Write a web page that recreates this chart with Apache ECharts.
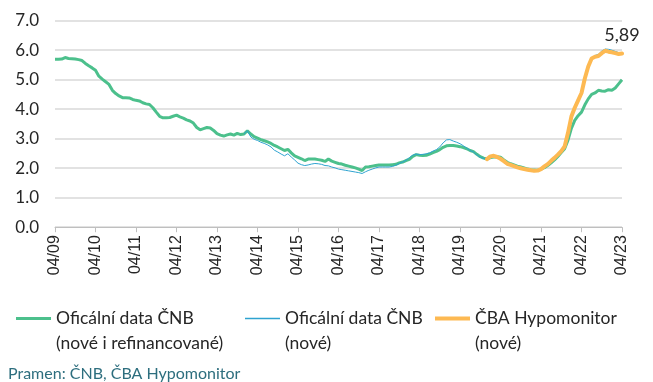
<!DOCTYPE html>
<html><head><meta charset="utf-8">
<script src="https://cdn.jsdelivr.net/npm/echarts@6/dist/echarts.min.js"></script>
<style>html,body{margin:0;padding:0;background:#fff}#c{width:653px;height:382px}</style>
</head><body><div id="c"></div><script>
// categories: monthly 04/09 .. 04/23
const months = [];
for (let i = 0; i < 169; i++) {
  const m = (3 + i) % 12 + 1, y = 9 + Math.floor((3 + i) / 12);
  months.push(String(m).padStart(2, '0') + '/' + String(y).padStart(2, '0'));
}
const seriesNames = ['Oficální data ČNB\n(nové i refinancované)', 'Oficální data ČNB\n(nové)', 'ČBA Hypomonitor\n(nové)'];
const cnbAll = [
5.69,5.69,5.70,5.75,5.72,5.71,5.70,5.68,5.65,5.55,5.47,5.40,
5.32,5.12,5.02,4.93,4.84,4.64,4.53,4.45,4.39,4.39,4.38,4.33,
4.30,4.28,4.22,4.18,4.16,4.05,3.90,3.76,3.71,3.71,3.72,3.76,
3.80,3.74,3.70,3.64,3.60,3.53,3.38,3.30,3.34,3.38,3.36,3.28,
3.17,3.12,3.09,3.13,3.16,3.12,3.18,3.14,3.16,3.27,3.16,3.07,
3.02,2.97,2.93,2.89,2.84,2.77,2.72,2.66,2.60,2.64,2.52,2.42,
2.37,2.32,2.26,2.31,2.31,2.31,2.29,2.27,2.23,2.31,2.24,2.20,
2.16,2.14,2.10,2.07,2.04,2.01,1.97,1.92,2.04,2.05,2.07,2.09,
2.11,2.11,2.11,2.11,2.12,2.13,2.18,2.21,2.26,2.30,2.40,2.46,
2.44,2.43,2.44,2.48,2.53,2.57,2.63,2.71,2.76,2.77,2.77,2.75,
2.73,2.70,2.66,2.60,2.56,2.47,2.39,2.34,2.31,2.36,2.38,2.39,
2.37,2.28,2.20,2.15,2.11,2.07,2.04,2.01,1.97,1.95,1.94,1.93,
1.97,2.02,2.09,2.18,2.28,2.40,2.53,2.66,2.95,3.35,3.62,3.78,
3.90,4.15,4.35,4.50,4.55,4.64,4.62,4.61,4.66,4.64,4.72,4.86,
5.00];
const cnbNew = Array(56).fill(null).concat([
3.16,3.27,3.06,2.98,
2.94,2.88,2.84,2.79,2.72,2.61,2.55,2.48,2.42,2.49,2.38,2.28,
2.17,2.12,2.09,2.11,2.14,2.16,2.15,2.13,2.09,2.08,2.04,2.01,
1.97,1.95,1.93,1.91,1.89,1.87,1.85,1.82,1.88,1.93,1.97,2.01,
2.04,2.04,2.04,2.04,2.06,2.10,2.16,2.21,2.27,2.36,2.44,2.48,
2.46,2.47,2.49,2.52,2.58,2.63,2.72,2.86,2.96,2.97,2.92,2.88,
2.83,2.76,2.68,2.60,2.55,2.45,2.37,2.33,2.31,2.39,2.41,2.37,
2.31,2.23,2.15,2.10,2.06,2.02,1.99,1.97,1.95,1.93,1.91,1.92,
1.97,2.06,2.14,2.24,2.34,2.45,2.57,2.72,3.18,3.73,4.03,4.28,
4.53,5.03,5.45,5.74,5.82,5.86,5.97,6.04,6.03,6.00,5.96,5.92,
5.91]);
const hypo = Array(128).fill(null).concat([
2.31,2.40,2.42,2.38,
2.32,2.24,2.15,2.11,2.07,2.03,2.00,1.97,1.95,1.93,1.91,1.92,
1.97,2.06,2.14,2.25,2.35,2.46,2.58,2.74,3.20,3.75,4.05,4.30,
4.55,5.05,5.45,5.72,5.78,5.80,5.90,5.98,5.95,5.93,5.90,5.87,
5.89]);
const yTicks = [0, 7, 1];

const hypoData = hypo.map((v, i) => i === hypo.length - 1 ? {
  value: v,
  label: { show: true, position: 'top', distance: 9, fontSize: 18, fontFamily: 'Lato', color: '#262626',
           formatter: p => p.value.toFixed(2).replace('.', ',') }
} : v);

const chart = echarts.init(document.getElementById('c'), null, { renderer: 'canvas' });
const legendBase = (name, left, h) => ({
  data: [name], left: left, top: 276, orient: 'horizontal',
  icon: 'rect', itemWidth: 35, itemHeight: h,
  formatter: n => '\n' + n,
  textStyle: { fontFamily: 'Lato', fontSize: 17.5, color: '#262626', lineHeight: 25 },
  itemGap: 0
});
chart.setOption({
  animation: false,
  grid: { left: 55, right: 31, top: 20.7, bottom: 154.8, containLabel: false },
  title: { text: 'Pramen: ČNB, ČBA Hypomonitor', left: 3, top: 361,
           textStyle: { fontFamily: 'Lato', fontSize: 16, fontWeight: 'normal', color: '#2d6e7e' } },
  legend: [
    legendBase(seriesNames[0], 11, 3),
    legendBase(seriesNames[1], 240, 1.5),
    legendBase(seriesNames[2], 430, 4)
  ],
  xAxis: {
    type: 'category', data: months, boundaryGap: false,
    axisLine: { lineStyle: { color: '#bfbfbf', width: 1 } },
    axisTick: { show: true, interval: 11, length: 5, lineStyle: { color: '#bfbfbf' } },
    axisLabel: { interval: 11, rotate: 90, fontFamily: 'Liberation Sans', fontSize: 16, color: '#262626', margin: 8 }
  },
  yAxis: {
    type: 'value', min: yTicks[0], max: yTicks[1], interval: yTicks[2],
    axisLine: { show: false }, axisTick: { show: false },
    axisLabel: { formatter: v => v.toFixed(1), fontFamily: 'Lato', fontSize: 17, color: '#262626', margin: 16 },
    splitLine: { lineStyle: { color: '#d9d9d9', width: 1.5 } }
  },
  series: [
    { name: seriesNames[0], type: 'line', data: cnbAll, symbol: 'none', smooth: false,
      lineStyle: { color: '#4cc08c', width: 3 }, itemStyle: { color: '#4cc08c' }, z: 2 },
    { name: seriesNames[1], type: 'line', data: cnbNew, symbol: 'none', connectNulls: false,
      lineStyle: { color: '#2ea3d0', width: 1 }, itemStyle: { color: '#2ea3d0' }, z: 3 },
    { name: seriesNames[2], type: 'line', data: hypoData, symbol: 'circle', symbolSize: 0, showSymbol: true,
      lineStyle: { color: '#fdb952', width: 4, cap: 'round', join: 'round' }, itemStyle: { color: '#fdb952' }, z: 4 }
  ]
});
</script></body></html>
